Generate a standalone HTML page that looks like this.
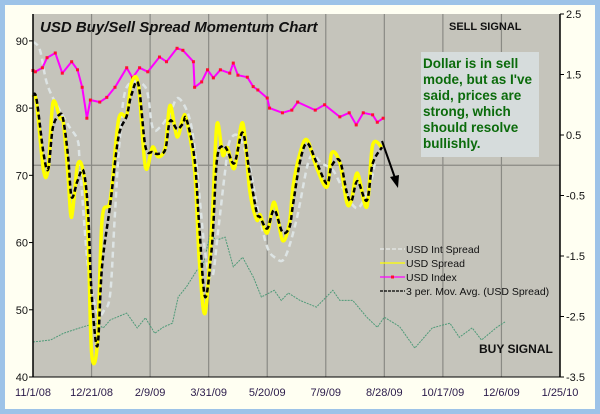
<!DOCTYPE html>
<html><head><meta charset="utf-8"><style>
html,body{margin:0;padding:0;background:#9dc3e8;}
svg{display:block;font-family:"Liberation Sans",sans-serif;}
</style></head><body>
<svg id="c" width="600" height="414" viewBox="0 0 600 414">
<rect x="0" y="0" width="600" height="414" fill="#9dc3e8"/>
<rect x="5" y="5" width="590" height="404" fill="#fffff2"/>
<rect x="33" y="14" width="527" height="363" fill="#c5c4bb"/>
<g id="grid"></g>
<g id="series"></g>
<g id="axes"></g>
<text x="40" y="32" font-size="15" font-weight="bold" font-style="italic" fill="#111">USD Buy/Sell Spread Momentum Chart</text>
<text x="449" y="30" font-size="11" font-weight="bold" fill="#111">SELL SIGNAL</text>
<text x="479" y="353" font-size="12" font-weight="bold" fill="#111">BUY SIGNAL</text>
<g>
<rect x="421" y="52" width="118" height="105" fill="#d6dcdc"/>
<text font-size="13.5" font-weight="bold" fill="#0b6b0b">
<tspan x="423" y="68">Dollar is in sell</tspan>
<tspan x="423" y="84">mode, but as I've</tspan>
<tspan x="423" y="100">said, prices are</tspan>
<tspan x="423" y="116">strong, which</tspan>
<tspan x="423" y="132">should resolve</tspan>
<tspan x="423" y="148">bullishly.</tspan>
</text></g>
<g>
<line x1="382" y1="141" x2="395" y2="178" stroke="#000" stroke-width="2"/>
<polygon points="398,188 390,177 399,175" fill="#000"/>
</g>
<g id="legend"></g>
</svg>
<script>
// x axis: days since 11/1/08
const xTickLabels=["11/1/08","12/21/08","2/9/09","3/31/09","5/20/09","7/9/09","8/28/09","10/17/09","12/6/09","1/25/10"];
const leftTicks=[90,80,70,60,50,40];
const rightTicks=[2.5,1.5,0.5,-0.5,-1.5,-2.5,-3.5];
const spreadDays=[0,3,9,13,17,23,26,30,33,38,43,47,50,55,59,66,73,80,84,90,96,102,107,113,117,123,128,131,138,142,147,153,157,162,166,172,179,185,191,194,200,206,213,219,222,228,234,242,251,255,262,268,272,277,285,290,298];
const spreadVals=[1.16,1.03,-0.08,-0.05,1.03,0.78,0.70,-0.19,-0.86,0.0,-0.13,-1.12,-3.1,-2.94,-0.9,-0.57,0.75,0.83,1.36,1.33,-0.03,0.30,0.14,0.30,0.99,0.47,0.78,0.75,-0.08,-1.57,-2.44,-0.9,0.67,0.17,0.29,-0.05,0.70,-0.41,-0.9,-0.82,-1.12,-0.61,-1.24,-0.95,-0.36,0.20,0.42,-0.03,-0.36,0.20,0.04,-0.62,-0.57,-0.13,-0.69,0.33,0.29,-0.44];
const intDays=[0,6,13,29,38,40,47,55,61,66,70,74,80,96,102,108,117,124,134,140,147,153,158,164,168,176,185,192,200,207,215,225,234,239,246,256,264,277,288,292];
const intVals=[2.04,1.9,1.29,0.7,0.42,0.04,-1.68,-2.44,-2.39,-2.11,-0.79,0.42,1.29,1.29,0.63,0.62,0.86,1.11,0.75,-0.08,-1.45,-1.85,-1.1,-0.1,0.4,0.47,-0.03,-0.74,-1.35,-1.53,-1.53,-0.9,-0.03,0.17,0.04,-0.08,-0.36,-0.71,-0.29,0.05];
const indexDays=[0,2,8,12,19,25,33,38,42,46,49,57,63,70,80,85,91,98,108,114,123,128,137,138,144,149,154,160,168,171,175,183,188,192,200,202,213,221,226,241,249,262,270,276,282,290,294,299];
const indexVals=[85.6,85.4,86.0,87.5,88.2,85.2,86.9,85.7,83.1,78.5,81.2,80.9,81.6,83.1,86.0,84.5,86.0,85.4,87.6,86.9,88.9,88.6,86.9,83.1,83.9,85.7,84.5,85.7,85.2,86.7,84.9,84.6,83.2,82.7,81.5,80.0,79.3,79.7,80.9,79.7,80.5,78.7,79.3,77.5,79.3,79.0,77.9,78.5];
const greenDays=[0,15,26,40,53,60,66,80,89,96,104,111,119,124,131,140,145,151,157,164,171,179,188,195,206,212,218,228,242,256,262,273,285,294,300,313,326,341,356,364,375,383,396,403];
const greenVals=[45.2,45.5,46.5,47.3,48.0,47.3,48.5,49.5,47.3,48.8,46.5,47.4,48.0,51.9,53.4,55.9,56.4,61.1,60.4,60.8,56.4,57.8,54.9,51.9,52.9,51.4,52.5,51.4,50.4,52.9,51.4,51.4,48.9,47.4,48.9,47.5,44.3,47.3,48.0,45.9,47.3,45.5,47.4,48.2];

const NS="http://www.w3.org/2000/svg";
const X0=33,X1=560,Y0=14,Y1=377,DAYMAX=450;
const xs=d=>X0+d/DAYMAX*(X1-X0);
const yl=v=>Y1-(v-40)/(94-40)*(Y1-Y0);
const yr=v=>Y1-(v+3.5)/6*(Y1-Y0);
function mk(tag,attrs,parent){const e=document.createElementNS(NS,tag);for(const k in attrs)e.setAttribute(k,attrs[k]);parent.appendChild(e);return e;}
const grid=document.getElementById('grid'),axes=document.getElementById('axes'),ser=document.getElementById('series'),leg=document.getElementById('legend');
xTickLabels.forEach((t,i)=>{const x=xs(i*50);
 if(i>0&&i<xTickLabels.length-1){const l=mk('line',{x1:x,x2:x,y1:Y0,y2:Y1,stroke:'#8a8a84','stroke-width':1.2},grid);
 
 }
 const tx=mk('text',{x:x,y:396,'font-size':11,'text-anchor':'middle',fill:'#2a1a4a'},axes);tx.textContent=t;
 
 });
const hz=mk('line',{x1:X0,x2:X1,y1:yr(0),y2:yr(0),stroke:'#8a8a84','stroke-width':1.2},grid);


const la=mk('line',{x1:X0,x2:X0,y1:Y0,y2:Y1,stroke:'#000','stroke-width':1.5},axes);


const ra=mk('line',{x1:X1,x2:X1,y1:Y0,y2:Y1,stroke:'#000','stroke-width':1.5},axes);


const ba=mk('line',{x1:X0-3,x2:X1,y1:Y1,y2:Y1,stroke:'#000','stroke-width':1},axes);


leftTicks.forEach(v=>{const y=yl(v);mk('line',{x1:X0-4,x2:X0,y1:y,y2:y,stroke:'#000'},axes);
 const t=mk('text',{x:28,y:y+4,'font-size':11,'text-anchor':'end',fill:'#111'},axes);t.textContent=v;
 
 });
rightTicks.forEach(v=>{const y=yr(v);mk('line',{x1:X1,x2:X1+4,y1:y,y2:y,stroke:'#000'},axes);
 const t=mk('text',{x:566,y:y+4,'font-size':11,fill:'#111'},axes);t.textContent=v;
 
 });
function pts(days,vals,yf){return days.map((d,i)=>xs(d).toFixed(1)+','+yf(vals[i]).toFixed(1)).join(' ');}
function smooth(days,vals,yf){const P=days.map((d,i)=>[xs(d),yf(vals[i])]);let s='M'+P[0][0].toFixed(1)+','+P[0][1].toFixed(1);
 for(let i=0;i<P.length-1;i++){const p0=P[Math.max(0,i-1)],p1=P[i],p2=P[i+1],p3=P[Math.min(P.length-1,i+2)];const k=1/6;
 s+=' C'+(p1[0]+(p2[0]-p0[0])*k).toFixed(1)+','+(p1[1]+(p2[1]-p0[1])*k).toFixed(1)+' '+(p2[0]-(p3[0]-p1[0])*k).toFixed(1)+','+(p2[1]-(p3[1]-p1[1])*k).toFixed(1)+' '+p2[0].toFixed(1)+','+p2[1].toFixed(1);}
 return s;}
function interp(days,vals,d){if(d<=days[0])return vals[0];for(let i=1;i<days.length;i++){if(d<=days[i]){const f=(d-days[i-1])/(days[i]-days[i-1]);return vals[i-1]+f*(vals[i]-vals[i-1]);}}return vals[vals.length-1];}
const maVals=spreadDays.map(d=>(interp(spreadDays,spreadVals,d-3)+interp(spreadDays,spreadVals,d-1.5)+interp(spreadDays,spreadVals,d))/3);
let p=mk('polyline',{points:pts(greenDays,greenVals,yl),fill:'none',stroke:'#4e9a78','stroke-width':1,'stroke-dasharray':'2,1'},ser);


p=mk('path',{d:smooth(intDays,intVals,yr),fill:'none',stroke:'#dde4e4','stroke-width':2.5,'stroke-dasharray':'6,4'},ser);


p=mk('polyline',{points:pts(indexDays,indexVals,yl),fill:'none',stroke:'#ff00ff','stroke-width':2,'stroke-linejoin':'round'},ser);


indexDays.forEach((d,i)=>{const c=mk('rect',{x:xs(d)-1.5,y:yl(indexVals[i])-1.5,width:3,height:3,fill:'#ff1030'},ser);
 
 });
p=mk('path',{d:smooth(spreadDays,spreadVals,yr),fill:'none',stroke:'#ffff00','stroke-width':3.5},ser);


p=mk('path',{d:smooth(spreadDays,maVals,yr),fill:'none',stroke:'#000','stroke-width':2.5,'stroke-dasharray':'5,3'},ser);


const legItems=[["USD Int Spread","#e6eaea","4,2"],["USD Spread","#ffff00",""],["USD Index","#ff00ff",""],["3 per. Mov. Avg. (USD Spread)","#000","3,1"]];
legItems.forEach((it,i)=>{const y=249+i*14;
 const g=mk('g',{},leg);
 
 
 mk('line',{x1:380,x2:405,y1:y,y2:y,stroke:it[1],'stroke-width':1.3,'stroke-dasharray':it[2]},g);
 if(i==2)mk('rect',{x:391,y:y-1.5,width:3,height:3,fill:'#ff1030'},g);
 const t=mk('text',{x:406,y:y+4,'font-size':10.5,fill:'#111'},g);t.textContent=it[0];});
</script>
</body></html>
